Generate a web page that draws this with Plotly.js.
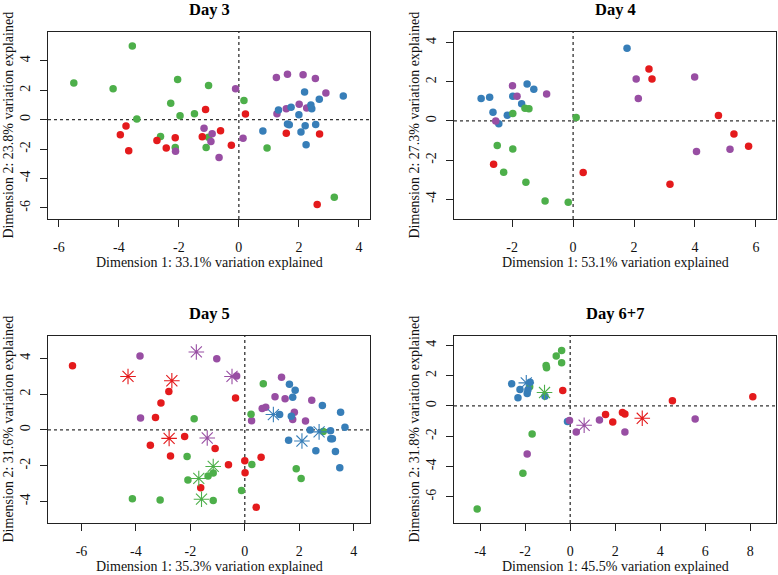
<!DOCTYPE html>
<html>
<head>
<meta charset="utf-8">
<script src="https://cdn.plot.ly/plotly-3.0.1.min.js"></script>
<style>html,body{margin:0;padding:0;background:#fff;}#chart{width:778px;height:575px;}</style>
</head>
<body>
<div id="chart"></div>
<script>
// ---------- Day 3 ----------
var day3_green_x = [-5.50,-3.55,-4.19,-3.40,-2.04,-2.27,-1.96,-1.48,-1.01,0.17,-2.61,-2.12,-1.09,-1.01,0.94,3.18];
var day3_green_y = [2.50,5.00,2.11,0.05,2.73,1.11,0.27,0.41,2.32,1.30,-1.14,-1.89,-1.89,-1.20,-1.93,-5.27];
var day3_red_x = [-3.76,-3.95,-3.67,-2.73,-2.42,-2.12,-1.22,-1.11,-0.61,-0.25,0.22,1.58,2.69,2.61];
var day3_red_y = [-0.43,-1.02,-2.11,-1.41,-1.93,-1.23,-1.16,0.70,-0.75,-1.73,0.39,-0.93,-0.98,-5.77];
var day3_purple_x = [-0.11,-1.16,-0.89,-0.93,-2.11,-0.66,0.14,1.25,1.62,2.14,2.55,2.90,2.01,1.58,1.27,2.26];
var day3_purple_y = [2.11,-0.59,-0.95,-1.48,-2.14,-2.57,-1.27,2.86,3.09,3.05,2.80,1.82,1.05,0.75,0.41,0.80];
var day3_blue_x = [2.19,3.48,2.68,2.43,2.40,1.74,1.32,2.00,1.62,1.68,2.21,2.56,0.80,2.07,2.24];
var day3_blue_y = [1.89,1.61,1.39,0.75,1.00,0.84,0.66,0.34,-0.30,-0.34,-0.41,-0.32,-0.77,-0.84,-1.70];

// ---------- Day 4 ----------
var day4_blue_x = [-3.02,-2.74,-2.63,-2.44,-2.16,-1.98,-1.69,-1.51,-1.29,1.77];
var day4_blue_y = [1.15,1.21,0.44,-0.14,0.29,1.26,0.87,1.88,1.61,3.71];
var day4_purple_x = [-2.54,-1.99,-1.84,-0.87,2.07,2.14,3.99,4.05,5.15];
var day4_purple_y = [0.00,1.79,1.26,1.38,2.14,1.15,2.24,-1.56,-1.45];
var day4_green_x = [-1.98,-1.58,-1.45,0.10,-2.49,-1.98,-2.28,-1.55,-0.92,-0.16];
var day4_green_y = [0.38,0.65,0.62,0.17,-1.26,-1.44,-2.62,-3.13,-4.09,-4.15];
var day4_red_x = [-2.61,0.33,2.49,2.59,3.18,4.77,5.28,5.76];
var day4_red_y = [-2.21,-2.63,2.65,2.14,-3.23,0.27,-0.67,-1.30];

// ---------- Day 5 ----------
var day5_red_x = [-6.33,-3.28,-3.08,-2.79,-0.34,-3.47,-2.21,-2.73,-1.09,-0.60,-1.62,0.00,0.01,0.60,0.42];
var day5_red_y = [3.59,0.69,1.50,2.15,1.79,-0.86,-0.37,-1.46,-1.03,-1.94,-3.23,-1.72,-2.39,-1.53,-4.32];
var day5_red_star_x = [-4.29,-2.68,-2.78];
var day5_red_star_y = [2.99,2.75,-0.47];
var day5_purple_x = [-3.85,-1.03,-0.30,-3.83,1.35,1.11,1.48,0.77,0.64,0.25,1.82,1.76,2.46,2.23];
var day5_purple_y = [4.13,3.98,3.01,0.67,2.95,1.85,1.74,1.27,1.20,0.52,0.99,0.58,1.66,0.50];
var day5_purple_star_x = [-1.78,-0.47,-1.38];
var day5_purple_star_y = [4.36,2.99,-0.45];
var day5_green_x = [0.68,0.23,-1.86,-2.12,0.26,-2.09,-1.35,-1.16,-0.12,-4.13,-3.11,-1.16,1.89,2.07,2.88];
var day5_green_y = [2.58,0.88,0.62,-1.48,-1.93,-2.80,-2.58,-2.41,-3.38,-3.85,-3.91,-3.94,-2.17,-2.71,-0.09];
var day5_green_star_x = [-1.16,-1.69,-1.59];
var day5_green_star_y = [-2.04,-2.71,-3.87];
var day5_blue_x = [1.64,1.85,1.76,2.85,1.28,1.71,3.52,3.68,2.40,3.15,3.16,3.22,1.61,2.61,3.33,3.49];
var day5_blue_y = [2.56,2.22,1.83,1.36,0.86,0.77,0.99,0.15,0.00,-0.04,-0.49,-0.49,-0.58,-1.16,-1.20,-2.11];
var day5_blue_star_x = [1.05,2.10,2.73];
var day5_blue_star_y = [0.86,-0.62,-0.11];

// ---------- Day 6+7 ----------
var day67_green_x = [-0.38,-0.62,-0.38,-1.07,-1.05,-1.80,-1.69,-2.10,-4.13];
var day67_green_y = [3.66,3.29,2.85,2.67,2.52,1.26,-1.85,-4.44,-6.80];
var day67_green_star_x = [-1.14];
var day67_green_star_y = [0.88];
var day67_blue_x = [-2.60,-2.23,-2.32,-1.91,-1.88,-1.78,-1.12,-0.12];
var day67_blue_y = [1.46,1.08,0.53,0.82,1.04,1.55,0.64,-1.04];
var day67_blue_star_x = [-1.95];
var day67_blue_star_y = [1.52];
var day67_red_x = [-0.33,1.57,1.89,2.32,2.43,4.54,8.11];
var day67_red_y = [1.02,-0.57,-1.06,-0.44,-0.53,0.33,0.60];
var day67_red_star_x = [3.20];
var day67_red_star_y = [-0.82];
var day67_purple_x = [-0.03,0.27,1.30,2.43,5.55,-1.91];
var day67_purple_y = [-0.97,-1.72,-0.93,-1.72,-0.86,-3.18];
var day67_purple_star_x = [0.62];
var day67_purple_star_y = [-1.28];

// ---------- Labels ----------
var panel_titles = ["Day 3","Day 4","Day 5","Day 6+7"];
var x_titles = ["Dimension 1: 33.1% variation explained","Dimension 1: 53.1% variation explained",
                "Dimension 1: 35.3% variation explained","Dimension 1: 45.5% variation explained"];
var y_titles = ["Dimension 2: 23.8% variation explained","Dimension 2: 27.3% variation explained",
                "Dimension 2: 31.6% variation explained","Dimension 2: 31.8% variation explained"];
var tick_vals = [-8,-6,-4,-2,0,2,4,6,8];
var tick_text = ["-8","-6","-4","-2","0","2","4","6","8"];

// ---------- Styling ----------
var C = {red:'#E41A1C', blue:'#377EB8', green:'#4DAF4A', purple:'#984EA3'};
var W = 778, H = 575;
var FONT = '"Liberation Serif", "Times New Roman", serif';

function dots(x, y, col, ax) {
  return {type:'scatter', mode:'markers', x:x, y:y, xaxis:'x'+ax, yaxis:'y'+ax,
    marker:{color:col, size:7.5, line:{width:0}}, hoverinfo:'x+y', showlegend:false};
}
function stars(x, y, col, ax) {
  return {type:'scatter', mode:'markers', x:x, y:y, xaxis:'x'+ax, yaxis:'y'+ax,
    marker:{color:col, size:13, symbol:'asterisk-open', line:{color:col, width:1.1}}, hoverinfo:'x+y', showlegend:false};
}

var data = [
  dots(day3_green_x, day3_green_y, C.green, ''),
  dots(day3_red_x, day3_red_y, C.red, ''),
  dots(day3_purple_x, day3_purple_y, C.purple, ''),
  dots(day3_blue_x, day3_blue_y, C.blue, ''),

  dots(day4_blue_x, day4_blue_y, C.blue, '2'),
  dots(day4_purple_x, day4_purple_y, C.purple, '2'),
  dots(day4_green_x, day4_green_y, C.green, '2'),
  dots(day4_red_x, day4_red_y, C.red, '2'),

  dots(day5_red_x, day5_red_y, C.red, '3'),
  dots(day5_purple_x, day5_purple_y, C.purple, '3'),
  dots(day5_green_x, day5_green_y, C.green, '3'),
  dots(day5_blue_x, day5_blue_y, C.blue, '3'),
  stars(day5_red_star_x, day5_red_star_y, C.red, '3'),
  stars(day5_purple_star_x, day5_purple_star_y, C.purple, '3'),
  stars(day5_green_star_x, day5_green_star_y, C.green, '3'),
  stars(day5_blue_star_x, day5_blue_star_y, C.blue, '3'),

  dots(day67_green_x, day67_green_y, C.green, '4'),
  dots(day67_blue_x, day67_blue_y, C.blue, '4'),
  dots(day67_red_x, day67_red_y, C.red, '4'),
  dots(day67_purple_x, day67_purple_y, C.purple, '4'),
  stars(day67_green_star_x, day67_green_star_y, C.green, '4'),
  stars(day67_blue_star_x, day67_blue_star_y, C.blue, '4'),
  stars(day67_red_star_x, day67_red_star_y, C.red, '4'),
  stars(day67_purple_star_x, day67_purple_star_y, C.purple, '4')
];

// panel frames in pixels: [left, right, top, bottom]
var frames = [[48,370,32,219],[454,776,32,219],[48,370,336,523],[454,776,336,523]];
var xranges = [[-6.36,4.37],[-3.91,6.66],[-7.23,4.60],[-5.16,9.14]];
var yranges = [[-6.75,5.96],[-5.01,4.54],[-5.20,5.25],[-7.73,4.61]];

function axisBase() {
  return {showgrid:false, zeroline:false, showline:true, mirror:true, linecolor:'#222', linewidth:1,
    ticks:'outside', ticklen:7, tickwidth:1, tickcolor:'#222',
    tickmode:'array', tickvals:tick_vals, ticktext:tick_text,
    tickfont:{family:FONT, size:14, color:'#111'}, fixedrange:true};
}

var layout = {
  width:W, height:H, margin:{l:0,r:0,t:0,b:0}, paper_bgcolor:'#fff', plot_bgcolor:'#fff',
  showlegend:false, font:{family:FONT, color:'#111'}, shapes:[], annotations:[]
};

var names = ['', '2', '3', '4'];
for (var i = 0; i < 4; i++) {
  var f = frames[i];
  var xa = axisBase(), ya = axisBase();
  xa.domain = [f[0]/W, f[1]/W];
  ya.domain = [1 - f[3]/H, 1 - f[2]/H];
  xa.range = xranges[i]; ya.range = yranges[i];
  xa.anchor = 'y' + names[i]; ya.anchor = 'x' + names[i];
  xa.ticklabelstandoff = 8;
  ya.ticklabelstandoff = 4;
  ya.tickangle = -90;
  layout['xaxis' + names[i]] = xa;
  layout['yaxis' + names[i]] = ya;

  // dotted reference lines at 0
  layout.shapes.push({type:'line', xref:'x'+names[i], yref:'y'+names[i]+' domain', x0:0, x1:0, y0:0, y1:1,
    line:{color:'#333', width:1.3, dash:'dot'}, layer:'below'});
  layout.shapes.push({type:'line', xref:'x'+names[i]+' domain', yref:'y'+names[i], x0:0, x1:1, y0:0, y1:0,
    line:{color:'#333', width:1.3, dash:'dot'}, layer:'below'});

  var cx = (f[0] + f[1]) / 2, cy = (f[2] + f[3]) / 2;
  // panel title
  layout.annotations.push({text:'<b>' + panel_titles[i] + '</b>', xref:'paper', yref:'paper',
    x:cx/W, y:1 - (f[2] - 23)/H, xanchor:'center', yanchor:'middle', showarrow:false,
    font:{family:FONT, size:16.5, color:'#000'}});
  // x title
  layout.annotations.push({text:x_titles[i], xref:'paper', yref:'paper',
    x:cx/W, y:1 - (f[3] + 43)/H, xanchor:'center', yanchor:'middle', showarrow:false,
    font:{family:FONT, size:14, color:'#111'}});
  // y title
  layout.annotations.push({text:y_titles[i], xref:'paper', yref:'paper', textangle:-90,
    x:(f[0] - 40)/W, y:1 - cy/H, xanchor:'center', yanchor:'middle', showarrow:false,
    font:{family:FONT, size:14, color:'#111'}});
}

Plotly.newPlot('chart', data, layout, {staticPlot:true, displayModeBar:false});
</script>
</body>
</html>
